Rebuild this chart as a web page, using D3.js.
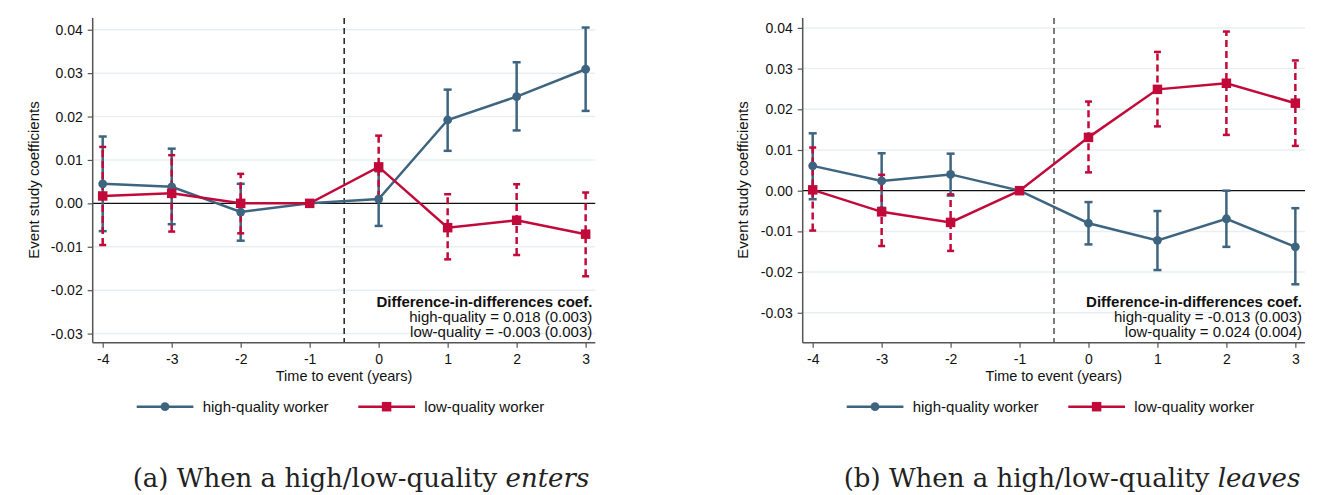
<!DOCTYPE html>
<html>
<head>
<meta charset="utf-8">
<script src="https://cdn.jsdelivr.net/npm/d3@7"></script>
<style>
	body { margin: 0; background: #fff; }
	svg { display: block; }
</style>
</head>
<body>
<div id="charts"></div>
<script>
// event times and tick labels
var years = [-4, -3, -2, -1, 0, 1, 2, 3];
var xTickLabels = ["-4", "-3", "-2", "-1", "0", "1", "2", "3"];
var yTicks = [-0.03, -0.02, -0.01, 0, 0.01, 0.02, 0.03, 0.04];
var yTickLabels = ["-0.03", "-0.02", "-0.01", "0.00", "0.01", "0.02", "0.03", "0.04"];
var seriesNames = ["high-quality worker", "low-quality worker"];

// (a) enters
var enterHigh   = [0.0045, 0.0038, -0.0020, 0, 0.0010, 0.0192, 0.0246, 0.0309];
var enterHighLo = [-0.0064, -0.0048, -0.0086, null, -0.0052, 0.0121, 0.0168, 0.0213];
var enterHighHi = [0.0154, 0.0126, 0.0045, null, 0.0074, 0.0262, 0.0325, 0.0405];
var enterLow    = [0.0017, 0.0023, 0.0000, 0, 0.0084, -0.0056, -0.0039, -0.0071];
var enterLowLo  = [-0.0096, -0.0065, -0.0069, null, 0.0013, -0.0129, -0.0119, -0.0168];
var enterLowHi  = [0.0130, 0.0111, 0.0068, null, 0.0156, 0.0021, 0.0044, 0.0025];
var enterDiD = ["Difference-in-differences coef.", "high-quality = 0.018 (0.003)", "low-quality = -0.003 (0.003)"];

// (b) leaves
var leaveHigh   = [0.0061, 0.0024, 0.0040, 0, -0.0080, -0.0122, -0.0069, -0.0138];
var leaveHighLo = [-0.0021, -0.0042, -0.0012, null, -0.0132, -0.0195, -0.0138, -0.0230];
var leaveHighHi = [0.0141, 0.0092, 0.0091, null, -0.0028, -0.0050, 0.0000, -0.0043];
var leaveLow    = [0.0002, -0.0052, -0.0078, 0, 0.0131, 0.0249, 0.0264, 0.0215];
var leaveLowLo  = [-0.0098, -0.0136, -0.0148, null, 0.0045, 0.0158, 0.0137, 0.0110];
var leaveLowHi  = [0.0106, 0.0039, -0.0009, null, 0.0219, 0.0341, 0.0391, 0.0320];
var leaveDiD = ["Difference-in-differences coef.", "high-quality = -0.013 (0.003)", "low-quality = 0.024 (0.004)"];

var blue = "#3e6580";
var red = "#c10a3a";
var font = "'Liberation Sans', Arial, sans-serif";

var svg = d3.select("#charts").append("svg")
	.attr("width", 1335)
	.attr("height", 495)
	.style("font-family", font);

function drawPanel(opt) {
	var g = svg.append("g");
	var x = d3.scaleLinear().domain([-4.145, 3.14]).range([opt.left, opt.right]);
	var y = d3.scaleLinear().domain(opt.yDomain).range([342.7, 18]);

	// gridlines
	g.selectAll("line.grid")
		.data(yTicks.filter(function (d) { return d !== 0; }))
		.enter().append("line")
		.attr("class", "grid")
		.attr("x1", opt.left).attr("x2", opt.right)
		.attr("y1", function (d) { return y(d); })
		.attr("y2", function (d) { return y(d); })
		.attr("stroke", "#e8eff2")
		.attr("stroke-width", 1.5);

	// zero line
	g.append("line")
		.attr("x1", opt.left).attr("x2", opt.right)
		.attr("y1", y(0)).attr("y2", y(0))
		.attr("stroke", "#111").attr("stroke-width", 1.3);

	// event line
	g.append("line")
		.attr("x1", x(-0.5)).attr("x2", x(-0.5))
		.attr("y1", 18).attr("y2", 342.7)
		.attr("stroke", opt.eventColor)
		.attr("stroke-width", 1.4)
		.attr("stroke-dasharray", "6,4");

	// axes
	var yAxis = d3.axisLeft(y)
		.tickValues(yTicks)
		.tickFormat(function (d, i) { return yTickLabels[i]; })
		.tickSize(5).tickSizeOuter(0).tickPadding(5);
	var yg = g.append("g").attr("transform", "translate(" + opt.left + ",0)").call(yAxis);

	var xAxis = d3.axisBottom(x)
		.tickValues(years)
		.tickFormat(function (d, i) { return xTickLabels[i]; })
		.tickSize(5).tickSizeOuter(0).tickPadding(6.5);
	var xg = g.append("g").attr("transform", "translate(0,342.7)").call(xAxis);

	[yg, xg].forEach(function (a) {
		a.select(".domain").attr("stroke", "#555").attr("stroke-width", 1.5);
		a.selectAll(".tick line").attr("stroke", "#555").attr("stroke-width", 1.2);
		a.selectAll(".tick text").attr("fill", "#111")
			.style("font-family", font).style("font-size", "14px");
	});
	yg.select(".domain").attr("d", "M0,18V342.7");
	xg.select(".domain").attr("d", "M" + opt.left + ",0H" + opt.right);

	// axis titles
	g.append("text")
		.attr("transform", "translate(" + opt.ytitleX + ",180) rotate(-90)")
		.attr("text-anchor", "middle").attr("dy", "0.35em")
		.style("font-size", "15px").attr("fill", "#111")
		.text("Event study coefficients");
	g.append("text")
		.attr("x", (opt.left + opt.right) / 2).attr("y", 380.5)
		.attr("text-anchor", "middle")
		.style("font-size", "14.5px").attr("fill", "#111")
		.text("Time to event (years)");

	// confidence intervals
	function ci(lo, hi, color, cap, dash) {
		var idx = years.map(function (d, i) { return i; })
			.filter(function (i) { return lo[i] !== null; });
		var c = g.append("g").attr("stroke", color).attr("stroke-width", 2.5);
		c.selectAll("line.bar").data(idx).enter().append("line")
			.attr("x1", function (i) { return x(years[i]); })
			.attr("x2", function (i) { return x(years[i]); })
			.attr("y1", function (i) { return y(lo[i]); })
			.attr("y2", function (i) { return y(hi[i]); })
			.attr("stroke-dasharray", dash);
		[lo, hi].forEach(function (arr) {
			c.selectAll(null).data(idx).enter().append("line")
				.attr("x1", function (i) { return x(years[i]) - cap; })
				.attr("x2", function (i) { return x(years[i]) + cap; })
				.attr("y1", function (i) { return y(arr[i]); })
				.attr("y2", function (i) { return y(arr[i]); });
		});
	}
	ci(opt.highLo, opt.highHi, blue, 4, null);
	ci(opt.lowLo, opt.lowHi, red, 3.5, "7,4");

	// lines and markers
	var line = d3.line()
		.x(function (d, i) { return x(years[i]); })
		.y(function (d) { return y(d); });
	g.append("path").datum(opt.high).attr("d", line)
		.attr("fill", "none").attr("stroke", blue).attr("stroke-width", 2.5);
	g.selectAll("circle.hi").data(opt.high).enter().append("circle")
		.attr("cx", function (d, i) { return x(years[i]); })
		.attr("cy", function (d) { return y(d); })
		.attr("r", 4.4).attr("fill", blue);
	g.append("path").datum(opt.low).attr("d", line)
		.attr("fill", "none").attr("stroke", red).attr("stroke-width", 2.5);
	var s = 9.5;
	g.selectAll("rect.lo").data(opt.low).enter().append("rect")
		.attr("x", function (d, i) { return x(years[i]) - s / 2; })
		.attr("y", function (d) { return y(d) - s / 2; })
		.attr("width", s).attr("height", s).attr("fill", red);

	// difference-in-differences note
	var note = g.append("text").attr("text-anchor", "end")
		.style("font-size", "15px").attr("fill", "#111");
	note.selectAll("tspan").data(opt.did).enter().append("tspan")
		.attr("x", opt.right - 3)
		.attr("y", function (d, i) { return 307.3 + i * 14.7; })
		.style("font-weight", function (d, i) { return i === 0 ? "bold" : "normal"; })
		.text(function (d) { return d; });

	// legend
	var colors = [blue, red];
	var offs = [44, 265.6];
	seriesNames.forEach(function (name, k) {
		var lx = opt.left + offs[k];
		g.append("line").attr("x1", lx).attr("x2", lx + 56.7)
			.attr("y1", 406.7).attr("y2", 406.7)
			.attr("stroke", colors[k]).attr("stroke-width", 2.5);
		if (k === 0) {
			g.append("circle").attr("cx", lx + 28.3).attr("cy", 406.7)
				.attr("r", 4.4).attr("fill", blue);
		} else {
			g.append("rect").attr("x", lx + 28.3 - s / 2).attr("y", 406.7 - s / 2)
				.attr("width", s).attr("height", s).attr("fill", red);
		}
		g.append("text").attr("x", lx + 66).attr("y", 406.7).attr("dy", "0.35em")
			.style("font-size", "15px").attr("fill", "#111")
			.text(name);
	});

	// caption
	var cap = svg.append("text")
		.attr("x", opt.captionX).attr("y", 487)
		.attr("text-anchor", "middle")
		.style("font-family", "'DejaVu Serif', serif")
		.style("font-size", "26px").attr("fill", "#222");
	cap.append("tspan").text(opt.caption[0]);
	cap.append("tspan").style("font-style", "italic").text(opt.caption[1]);
}

drawPanel({
	left: 92.7, right: 595.3, yDomain: [-0.0321, 0.0427], ytitleX: 33.5,
	eventColor: "#111",
	high: enterHigh, highLo: enterHighLo, highHi: enterHighHi,
	low: enterLow, lowLo: enterLowLo, lowHi: enterLowHi,
	did: enterDiD, captionX: 361,
	caption: ["(a) When a high/low-quality ", "enters"]
});
drawPanel({
	left: 802.7, right: 1305, yDomain: [-0.03735, 0.04243], ytitleX: 742.5,
	eventColor: "#444",
	high: leaveHigh, highLo: leaveHighLo, highHi: leaveHighHi,
	low: leaveLow, lowLo: leaveLowLo, lowHi: leaveLowHi,
	did: leaveDiD, captionX: 1072,
	caption: ["(b) When a high/low-quality ", "leaves"]
});
</script>
</body>
</html>
